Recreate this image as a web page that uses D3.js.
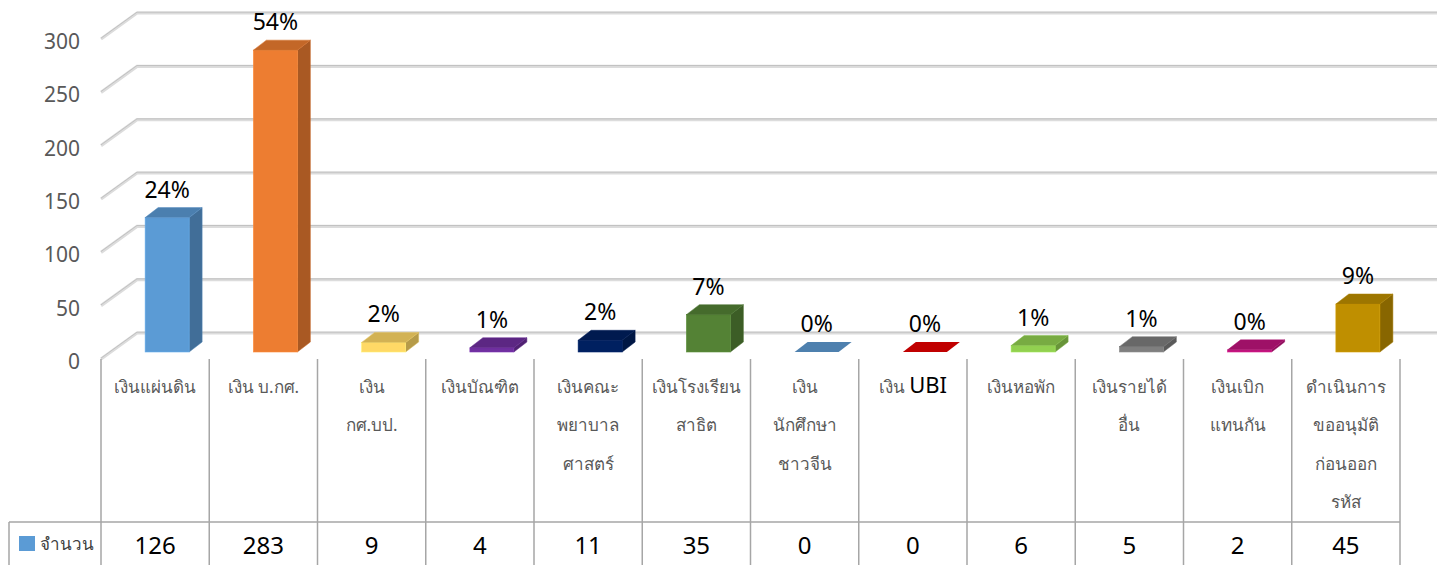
<!DOCTYPE html>
<html><head><meta charset="utf-8">
<script src="https://cdn.jsdelivr.net/npm/d3@7"></script>
<style>body{margin:0;background:#fff}svg{display:block}</style>
</head><body>
<svg id="c" width="1442" height="565"></svg>
<script>
const categories = ["เงินแผ่นดิน","เงิน บ.กศ.","เงิน กศ.บป.","เงินบัณฑิต","เงินคณะพยาบาลศาสตร์","เงินโรงเรียนสาธิต","เงินนักศึกษาชาวจีน","เงิน UBI","เงินหอพัก","เงินรายได้อื่น","เงินเบิกแทนกัน","ดำเนินการขออนุมัติก่อนออกรหัส"];
const categoryLines = [["เงินแผ่นดิน"],["เงิน บ.กศ."],["เงิน","กศ.บป."],["เงินบัณฑิต"],["เงินคณะ","พยาบาล","ศาสตร์"],["เงินโรงเรียน","สาธิต"],["เงิน","นักศึกษา","ชาวจีน"],["เงิน UBI"],["เงินหอพัก"],["เงินรายได้","อื่น"],["เงินเบิก","แทนกัน"],["ดำเนินการ","ขออนุมัติ","ก่อนออก","รหัส"]];
const values = [126,283,9,4,11,35,0,0,6,5,2,45];
const percentLabels = ["24%","54%","2%","1%","2%","7%","0%","0%","1%","1%","0%","9%"];
const barColors = ["#5B9BD5","#ED7D31","#FFD966","#7030A0","#002060","#548235","#4E80AE","#C00000","#92D050","#7F7F7F","#C0157D","#BF8F00"];
const yTicks = [0,50,100,150,200,250,300];
const seriesName = "จำนวน";

const svg = d3.select("#c");
const font = "'Noto Sans', 'DejaVu Sans', sans-serif";

const x = d3.scaleBand().domain(categories).range([101,1400]).padding(0);
const yFront = d3.scaleLinear().domain([0,300]).range([359,39]);
const yBack = d3.scaleLinear().domain([0,300]).range([333,13]);
const yBar = d3.scaleLinear().domain([0,300]).range([352,32]);
const backLeft = 137, backRight = 1437;
const barW = 44, barOff = 12, depthX = 13, depthY = -10;

// gridlines
const g = svg.append("g");
yTicks.forEach(t=>{
  g.append("polyline")
   .attr("points", `${101},${yFront(t)} ${backLeft},${yBack(t)} ${backRight},${yBack(t)}`)
   .attr("fill","none").attr("stroke","#DCDCDC").attr("stroke-width",3.2);
  g.append("polyline")
   .attr("points", `${101},${yFront(t)-0.8} ${backLeft},${yBack(t)-0.8} ${backRight},${yBack(t)-0.8}`)
   .attr("fill","none").attr("stroke","#C2C2C2").attr("stroke-width",1);
});

// y axis labels
svg.append("g").selectAll("text").data(yTicks).join("text")
  .attr("x",80).attr("y",d=>yFront(d)+2)
  .attr("text-anchor","end").attr("dominant-baseline","central")
  .attr("font-family",font).attr("font-size",21).attr("fill","#595959")
  .text(d=>d);

// bars
const bars = svg.append("g");
categories.forEach((c,i)=>{
  const v = values[i];
  const col = d3.color(barColors[i]);
  const x0 = x(c) + x.bandwidth()/2 + barOff - barW/2, x1 = x0 + barW;
  const yb = yBar(0), yt = yBar(v);
  const gb = bars.append("g");
  if (v > 0) {
    gb.append("polygon").attr("points",`${x1},${yb} ${x1+depthX},${yb+depthY} ${x1+depthX},${yt+depthY} ${x1},${yt}`)
      .attr("fill", col.darker(0.95)).attr("stroke",col.darker(0.5)).attr("stroke-width",0.5);
    gb.append("rect").attr("x",x0).attr("y",yt).attr("width",barW).attr("height",yb-yt)
      .attr("fill", col.formatHex()).attr("stroke",col.brighter(0.3)).attr("stroke-width",0.6);
    gb.append("polygon").attr("points",`${x0},${yt} ${x1},${yt} ${x1+depthX},${yt+depthY} ${x0+depthX},${yt+depthY}`)
      .attr("fill", col.darker(0.55)).attr("stroke",col.darker(0.3)).attr("stroke-width",0.5);
  } else {
    gb.append("polygon").attr("points",`${x0},${yt} ${x1},${yt} ${x1+depthX},${yt+depthY} ${x0+depthX},${yt+depthY}`)
      .attr("fill", col.formatHex());
  }
  svg.append("text").attr("x",x0+barW/2).attr("y",yt+depthY-10)
    .attr("text-anchor","middle").attr("font-family",font).attr("font-size",23).attr("fill","#000")
    .text(percentLabels[i]);
});

// category separators & table
const lineCol = "#A6A6A6";
const edges = categories.map(c=>x(c)).concat([x.range()[1]]);
svg.append("g").selectAll("line").data(edges).join("line")
  .attr("x1",d=>d).attr("x2",d=>d).attr("y1",359).attr("y2",565)
  .attr("stroke",lineCol).attr("stroke-width",1.5);
svg.append("line").attr("x1",9).attr("x2",1400).attr("y1",522).attr("y2",522).attr("stroke",lineCol).attr("stroke-width",1.5);
svg.append("line").attr("x1",9).attr("x2",9).attr("y1",522).attr("y2",565).attr("stroke",lineCol).attr("stroke-width",1.5);

// category labels
categories.forEach((c,i)=>{
  const cx = x(c)+x.bandwidth()/2;
  categoryLines[i].forEach((ln,j)=>{
    const t = svg.append("text").attr("x",cx).attr("y",393+38.3*j)
      .attr("text-anchor","middle").attr("font-family",font).attr("font-size",17).attr("fill","#595959");
    const m = ln.match(/^(.*?)(UBI)$/);
    if (m) {
      t.append("tspan").text(m[1]);
      t.append("tspan").attr("fill","#000").attr("font-size",22).text(m[2]);
    } else t.text(ln);
  });
  svg.append("text").attr("x",cx).attr("y",554)
    .attr("text-anchor","middle").attr("font-family",font).attr("font-size",24).attr("fill","#000")
    .text(values[i]);
});

// legend key
svg.append("rect").attr("x",19).attr("y",536).attr("width",16).attr("height",15).attr("fill",barColors[0]);
svg.append("text").attr("x",40).attr("y",550).attr("font-family",font).attr("font-size",17).attr("fill","#404040").text(seriesName);
</script>
</body></html>
